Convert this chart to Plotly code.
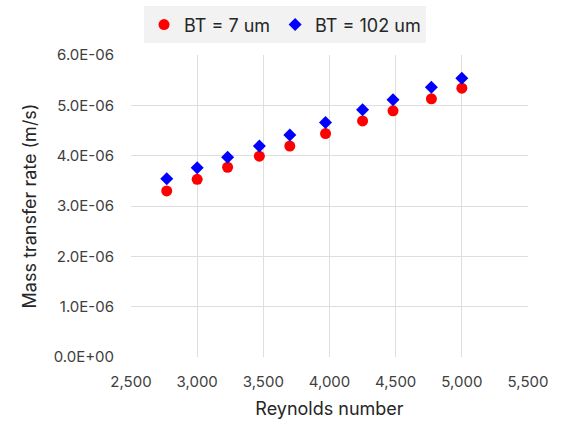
import plotly.graph_objects as go

# Reynolds number for each run
reynolds = [2770, 3000, 3230, 3470, 3700, 3970, 4250, 4480, 4770, 5000]
# Mass transfer rate (m/s) for two boundary-layer thicknesses
bt7 = [3.30e-6, 3.53e-6, 3.77e-6, 3.99e-6, 4.19e-6, 4.44e-6, 4.69e-6, 4.89e-6, 5.13e-6, 5.34e-6]
bt102 = [3.54e-6, 3.76e-6, 3.97e-6, 4.19e-6, 4.41e-6, 4.66e-6, 4.91e-6, 5.11e-6, 5.36e-6, 5.54e-6]

y_tickvals = [0, 1e-6, 2e-6, 3e-6, 4e-6, 5e-6, 6e-6]
y_ticktext = ["0.0E+00", "1.0E-06", "2.0E-06", "3.0E-06", "4.0E-06", "5.0E-06", "6.0E-06"]

font_family = "Inter, Noto Sans, Arial, sans-serif"

fig = go.Figure()
fig.add_trace(go.Scatter(
    x=reynolds, y=bt7, mode="markers", name="BT = 7 um",
    marker=dict(symbol="circle", size=11, color="#ff0000"),
))
fig.add_trace(go.Scatter(
    x=reynolds, y=bt102, mode="markers", name="BT = 102 um",
    marker=dict(symbol="diamond", size=10, color="#0000ff"),
))

fig.update_layout(
    width=569, height=427,
    margin=dict(l=131, r=41, t=55, b=70, autoexpand=False),
    paper_bgcolor="white", plot_bgcolor="white",
    font=dict(family=font_family, color="#262626", size=14),
    showlegend=True,
    legend=dict(
        orientation="h", x=0.388, xanchor="center",
        y=0.985, yref="container", yanchor="top",
        bgcolor="#f2f2f2", font=dict(size=18, color="#262626"),
        itemwidth=30, borderwidth=0,
    ),
)

fig.update_xaxes(
    range=[2500, 5500], dtick=500, tick0=2500, tickformat=",",
    showgrid=True, gridcolor="#dedede", gridwidth=1,
    zeroline=False, showline=False, ticks="", ticklabelstandoff=14,
    tickfont=dict(size=15, color="#404040"),
    title=dict(text="Reynolds number", font=dict(size=18, color="#262626"), standoff=12),
)
fig.update_yaxes(
    range=[0, 6e-6], tickvals=y_tickvals, ticktext=y_ticktext,
    showgrid=True, gridcolor="#dedede", gridwidth=1,
    zeroline=False, showline=False, ticks="", ticklabelstandoff=16,
    tickfont=dict(size=15, color="#404040"),
    title=dict(text="Mass transfer rate (m/s)", font=dict(size=18, color="#262626"), standoff=12),
)

fig.write_html("out.html")
